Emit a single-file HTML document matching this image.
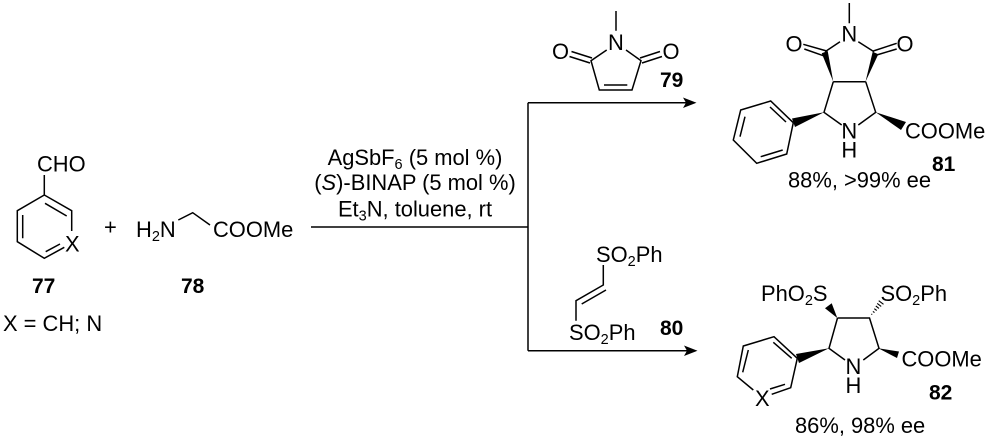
<!DOCTYPE html>
<html><head><meta charset="utf-8"><style>
html,body{margin:0;padding:0;background:#fff;width:987px;height:441px;overflow:hidden}
svg{display:block}
text{font-family:"Liberation Sans",sans-serif;font-size:21.9px;fill:#000}
.b{font-weight:bold;font-size:21px}
.s{font-size:14.5px}
path.l{fill:none;stroke:#000;stroke-width:1.5}
path.w{fill:#000;stroke:none}
</style></head><body>
<svg width="987" height="441" viewBox="0 0 987 441" xmlns="http://www.w3.org/2000/svg">
<!-- 77 -->
<path class="l" d="M44.3 175V195L71.7 210.7V231M44.3 195L17.3 210.7V241.7L44.3 258.3L64.3 247.3M45 203.3L66.7 216M22.7 215V238.3M45.7 251.7L60 244"/>
<text x="37" y="171.5">CHO</text>
<text x="65" y="251.5">X</text>
<text x="104" y="234.5">+</text>
<text x="136" y="237">H<tspan class="s" dy="4">2</tspan><tspan dy="-4">N</tspan></text>
<path class="l" d="M178.3 220L192.7 212.7L210 225"/>
<text x="213" y="237">COOMe</text>
<text class="b" x="32" y="293">77</text>
<text class="b" x="181" y="293">78</text>
<text x="3" y="331">X = CH; N</text>
<!-- reagents -->
<text x="415" y="165" text-anchor="middle">AgSbF<tspan class="s" dy="4">6</tspan><tspan dy="-4"> (5 mol %)</tspan></text>
<text x="415" y="190" text-anchor="middle">(<tspan font-style="italic">S</tspan>)-BINAP (5 mol %)</text>
<text x="415" y="216.5" text-anchor="middle">Et<tspan class="s" dy="4">3</tspan><tspan dy="-4">N, toluene, rt</tspan></text>
<path class="l" d="M311 227H528M528 102.7V350.7M528 102.7H690M528 350.7H690"/>
<path class="w" d="M696.5 102.7L683 97.5L686 102.7L683 108ZM697.5 350.7L684 345.5L687 350.7L684 356Z"/>
<!-- 79 -->
<path class="l" d="M616 11V30.7M626 50L641 60.7L632 90H599.3L591 60.7L606.7 50M604 85H627.3M640 58L660 51.5M642 63L662 56.5M592 58L571.5 51.5M590 63L569.5 56.5"/>
<text x="608" y="50">N</text>
<text x="552" y="59">O</text>
<text x="662.5" y="59">O</text>
<text class="b" x="660" y="87">79</text>
<!-- 80 -->
<text x="596" y="262">SO<tspan class="s" dy="4">2</tspan><tspan dy="-4">Ph</tspan></text>
<path class="l" d="M603.3 265V285L576 300.7V320.7M606 290L581.7 304"/>
<text x="569" y="340">SO<tspan class="s" dy="4">2</tspan><tspan dy="-4">Ph</tspan></text>
<text class="b" x="660" y="335">80</text>
<!-- 81 -->
<path class="l" d="M849.3 3V23.3M840 41.7L825 51.7M858.3 41.7L874 51.7M833.3 81.7H865.7M833.3 81.7L824 112.3L841.7 125M865.7 81.7L875.7 112.3L858.3 125M793.3 122.7L770.7 101L740.7 110L733.3 140L756.7 163.3L786.7 154L793.3 122.7M770 107L786 122M745 116.7L740 136.7M760.7 156.7L782.7 150M803.3 44.3L826.7 51M804.3 49L823.3 55.7M896.7 43.3L873.3 51M896.7 49L876.7 55"/>
<path class="w" d="M833.3 81.7L821.7 53.3L827.7 51ZM865.5 81.7L878.3 54.3L872.7 51.7ZM824 112.3L792 118.5L795 127ZM875.7 112.3L901 130L906 122Z"/>
<text x="841.4" y="41.5">N</text>
<text x="785.5" y="51.5">O</text>
<text x="896.5" y="51.5">O</text>
<text x="841.4" y="138.5">N</text>
<text x="841.4" y="157.5">H</text>
<text x="905" y="138.5">COOMe</text>
<text class="b" x="932" y="171">81</text>
<text x="788" y="187.5">88%, &gt;99% ee</text>
<!-- 82 -->
<text x="761" y="301">PhO<tspan class="s" dy="4">2</tspan><tspan dy="-4">S</tspan></text>
<text x="880.5" y="301">SO<tspan class="s" dy="4">2</tspan><tspan dy="-4">Ph</tspan></text>
<path class="l" d="M837.5 318H869.5L879 348.3L863.3 360M837.5 318L829 348.3L845 360M797.3 358.3L774 336.7L743.3 346L737.3 376.7L753.3 390M797.3 358.3L790.7 387.7L771.7 394.3M791.7 358.3L773.3 342.3M748.3 350L742.7 372.3M785 384.3L770 389"/>
<path class="w" d="M837.3 318L825 308.3L831.7 303.3ZM829 348.3L796 354L799 363ZM878.3 348.3L899 351.5L897 358Z"/>
<path class="l" style="stroke-width:1.1" d="M871.4 314L872.2 314.6M872.9 311.4L874.5 312.6M874.3 308.7L876.7 310.5M875.8 306L879 308.4M877.2 303.4L881.2 306.4M878.7 300.7L883.5 304.3"/>
<text x="845.5" y="374">N</text>
<text x="845.5" y="393">H</text>
<text x="755" y="406">X</text>
<text x="901.5" y="366.7">COOMe</text>
<text class="b" x="929" y="399.5">82</text>
<text x="795" y="433">86%, 98% ee</text>
</svg>
</body></html>
